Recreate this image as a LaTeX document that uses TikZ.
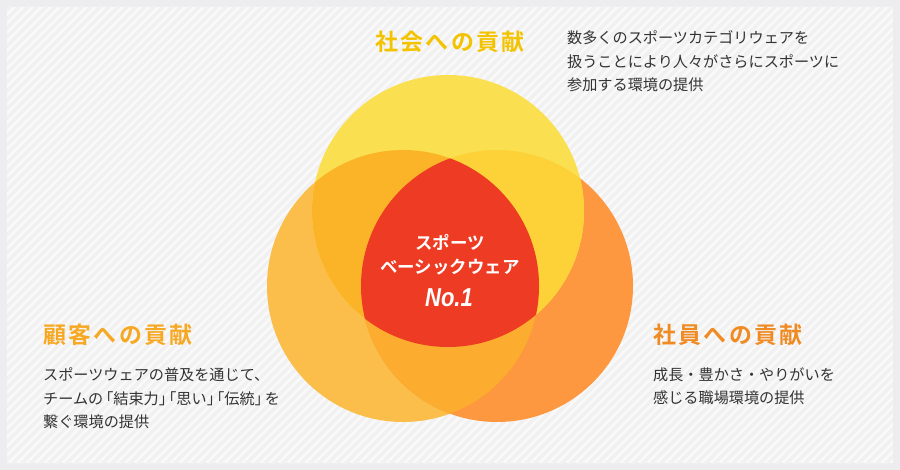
\documentclass[tikz,border=0pt]{standalone}
\usepackage{fontspec}
\usepackage{pdfrender}
\setmainfont{Noto Sans CJK JP}[BoldFont={Noto Sans CJK JP Bold}]
\newfontfamily\numfont{Liberation Sans}
\definecolor{frame}{HTML}{EDECEF}
\definecolor{innerbg}{HTML}{F9F9F9}
\definecolor{stripe}{HTML}{F1F1F1}
\definecolor{cT}{HTML}{FAE050}
\definecolor{cL}{HTML}{FBBE4A}
\definecolor{cR}{HTML}{FD9840}
\definecolor{cTL}{HTML}{FBB428}
\definecolor{cTR}{HTML}{FDD238}
\definecolor{cLR}{HTML}{FCAC2E}
\definecolor{cCore}{HTML}{EE3C24}
\definecolor{tTop}{HTML}{F3C300}
\definecolor{tLeft}{HTML}{F7A823}
\definecolor{tRight}{HTML}{F08A22}
\definecolor{body}{HTML}{333333}
\definecolor{noline}{HTML}{A8281A}
\newcommand\ls{\kern2.4bp}
\newcommand\bgap{\kern2.5bp}
\begin{document}
\begin{tikzpicture}[x=1bp,y=-1bp,
  title/.style={anchor=west,inner sep=0pt,font=\bfseries\fontsize{23}{24}\selectfont},
  bodytext/.style={anchor=west,inner sep=0pt,align=left,text=body,font=\fontsize{15.2}{23.5}\selectfont},
  coretext/.style={inner sep=0pt,align=center,text=white,font=\bfseries\fontsize{17.5}{24}\selectfont},
  nofont/.style={inner sep=0pt,font=\numfont\bfseries\itshape\fontsize{26}{26}\selectfont,xscale=0.85,transform shape}]
\useasboundingbox (0,0) rectangle (900,470);
\fill[frame] (0,0) rectangle (900,470);
\fill[innerbg] (7,7) rectangle (893,463);
\begin{scope}
  \clip (7,7) rectangle (893,463);
  \foreach \k in {-480,-471,...,900}
    \draw[stripe,line width=3.2bp] (\k,470) -- ++(470,-470);
\end{scope}
\coordinate (ct) at (448,211);
\coordinate (cl) at (403,286);
\coordinate (cr) at (497,286);
\fill[cL] (cl) circle[radius=136bp];
\fill[cR] (cr) circle[radius=136bp];
\fill[cT] (ct) circle[radius=136bp];
\begin{scope}
  \clip (ct) circle[radius=136bp];
  \fill[cTL] (cl) circle[radius=136bp];
\end{scope}
\begin{scope}
  \clip (ct) circle[radius=136bp];
  \fill[cTR] (cr) circle[radius=136bp];
\end{scope}
\begin{scope}
  \clip (cl) circle[radius=136bp];
  \fill[cLR] (cr) circle[radius=136bp];
\end{scope}
\begin{scope}
  \clip (ct) circle[radius=136bp];
  \clip (cl) circle[radius=136bp];
  \fill[cCore] (cr) circle[radius=136bp];
\end{scope}
% titles
\node[title,text=tTop] (ttop) at (375,42) {社\ls 会\ls へ\ls の\ls 貢\ls 献};
\node[title,text=tLeft] (tleft) at (43,335) {顧\ls 客\ls へ\ls の\ls 貢\ls 献};
\node[title,text=tRight] (tright) at (653,335) {社\ls 員\ls へ\ls の\ls 貢\ls 献};
% body texts
\node[bodytext] (btop) at (567,61.5) {数多くのスポーツカテゴリウェアを\\扱うことにより人々がさらにスポーツに\\参加する環境の提供};
\node[bodytext] (bleft) at (43,398.5) {スポーツウェアの普及を通じて、\\{\addfontfeature{RawFeature=+halt}チームの\bgap「結束力」\bgap「思い」\bgap「伝統」\bgap を}\\繋ぐ環境の提供};
\node[bodytext] (bright) at (653,386.5) {成長・豊かさ・やりがいを\\感じる職場環境の提供};
% core
\node[coretext] (core) at (450,255) {スポーツ\\ベーシックウェア};
\node[nofont,text=white] (no1) at (449,298) {\textpdfrender{TextRenderingMode=FillStroke,LineWidth=1.2,StrokeColor=noline,FillColor=white}{No.1}};
\end{tikzpicture}
\end{document}
